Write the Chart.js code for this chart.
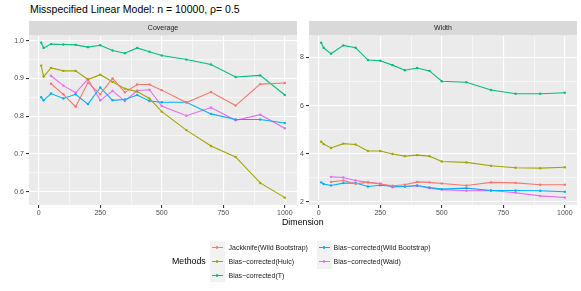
<!DOCTYPE html>
<html>
<head>
<meta charset="utf-8">
<script src="https://cdn.jsdelivr.net/npm/chart.js@4/dist/chart.umd.min.js"></script>
<style>
  body { margin: 0; background: #fff; font-family: "Liberation Sans", Arial, sans-serif; }
  #wrap { position: relative; width: 581px; height: 291px; overflow: hidden; }
  canvas { position: absolute; top: 0; }
  .txt { position: absolute; white-space: nowrap; line-height: 1; }
  .key { position: absolute; width: 15px; height: 14px; background: #F2F2F2; }
  .key .ln { position: absolute; left: 2px; right: 2px; top: 6.5px; height: 1.1px; }
  .key .pt { position: absolute; left: 6.2px; top: 5.7px; width: 2.6px; height: 2.6px; border-radius: 50%; }
</style>
</head>
<body>
<div id="wrap">
  <div class="txt" style="left:30px; top:4px; font-size:10.5px; color:#000;">Misspecified Linear Model: n = 10000, ρ= 0.5</div>
  <canvas id="cov" width="310" height="230" style="left:0px;"></canvas>
  <canvas id="wid" width="291" height="230" style="left:290px;"></canvas>
  <div class="txt" style="left:282px; top:218px; font-size:8.8px; color:#000;">Dimension</div>
  <div class="txt" style="left:172px; top:257px; font-size:8.8px; color:#000;">Methods</div>
  <div id="legend"></div>
</div>
<script>
// x values (dimension)
var dims = [10, 20, 50, 100, 150, 200, 250, 300, 350, 400, 450, 500, 600, 700, 800, 900, 1000];

var methods = [
  "Jackknife(Wild Bootstrap)",
  "Bias\u2212corrected(Hulc)",
  "Bias\u2212corrected(T)",
  "Bias\u2212corrected(Wild Bootstrap)",
  "Bias\u2212corrected(Wald)"
];
var colors = ["#F8766D", "#A3A500", "#00BF7D", "#00B0F6", "#E76BF3"];

// Coverage panel
var covJack = [null, null, 0.886, 0.858, 0.825, 0.889, 0.858, 0.900, 0.863, 0.884, 0.884, 0.869, 0.836, 0.864, 0.828, 0.885, 0.888];
var covHulc = [0.934, 0.905, 0.928, 0.920, 0.920, 0.897, 0.910, 0.891, 0.873, 0.865, 0.847, 0.812, 0.763, 0.721, 0.692, 0.623, 0.584];
var covT    = [0.995, 0.981, 0.991, 0.990, 0.989, 0.983, 0.988, 0.974, 0.967, 0.981, 0.971, 0.961, 0.950, 0.937, 0.904, 0.908, 0.856];
var covWild = [0.850, 0.842, 0.860, 0.847, 0.858, 0.832, 0.876, 0.842, 0.844, 0.856, 0.840, 0.837, 0.837, 0.806, 0.791, 0.791, 0.782];
var covWald = [null, null, 0.907, 0.881, 0.862, 0.898, 0.842, 0.867, 0.840, 0.868, 0.870, 0.827, 0.801, 0.823, 0.789, 0.804, 0.768];

// Width panel
var widJack = [null, null, 2.83, 2.89, 2.75, 2.82, 2.74, 2.67, 2.71, 2.83, 2.81, 2.76, 2.68, 2.81, 2.79, 2.71, 2.71];
var widHulc = [4.50, 4.40, 4.24, 4.42, 4.38, 4.11, 4.11, 3.99, 3.90, 3.94, 3.90, 3.68, 3.64, 3.50, 3.42, 3.40, 3.44];
var widT    = [8.61, 8.40, 8.15, 8.50, 8.40, 7.89, 7.86, 7.68, 7.47, 7.56, 7.44, 7.01, 6.97, 6.65, 6.49, 6.49, 6.53];
var widWild = [2.81, 2.74, 2.68, 2.78, 2.78, 2.64, 2.69, 2.65, 2.64, 2.68, 2.60, 2.53, 2.57, 2.47, 2.47, 2.46, 2.42];
var widWald = [null, null, 3.04, 3.01, 2.89, 2.81, 2.76, 2.61, 2.64, 2.67, 2.57, 2.51, 2.46, 2.47, 2.38, 2.25, 2.18];

// tick labels
var xTicks = [0, 125, 250, 375, 500, 625, 750, 875, 1000];
var xMajor = [0, 250, 500, 750, 1000];
var covTicks = [0.6, 0.65, 0.7, 0.75, 0.8, 0.85, 0.9, 0.95, 1.0];
var covMajor = [0.6, 0.7, 0.8, 0.9, 1.0];
var widTicks = [2, 3, 4, 5, 6, 7, 8];
var widMajor = [2, 4, 6, 8];

var FONT = "'Liberation Sans', Arial, sans-serif";

function isMajor(list, v) {
  return list.some(function (m) { return Math.abs(m - v) < 1e-9; });
}

// grey panel + strip on top
var panelBg = {
  id: "panelBg",
  beforeDraw(chart, args, opts) {
    var a = chart.chartArea, ctx = chart.ctx;
    ctx.save();
    ctx.fillStyle = "#EBEBEB";
    ctx.fillRect(a.left, a.top, a.right - a.left, a.bottom - a.top);
    ctx.fillStyle = "#D9D9D9";
    ctx.fillRect(a.left, 21, a.right - a.left, 14.5);
    ctx.fillStyle = "#1A1A1A";
    ctx.font = "7px " + FONT;
    ctx.textAlign = "center";
    ctx.textBaseline = "middle";
    ctx.fillText(opts.label, (a.left + a.right) / 2, 28.5);
    ctx.restore();
  }
};

function makePanel(id, label, series, yMin, yMax, yTicks, yMajor, fmt, yWidth, rightPad) {
  var datasets = series.map(function (vals, i) {
    return {
      label: methods[i],
      data: dims.map(function (d, j) { return { x: d, y: vals[j] }; }),
      borderColor: colors[i],
      backgroundColor: colors[i],
      borderWidth: 1.1,
      pointRadius: 1.2,
      pointBorderWidth: 0,
      tension: 0,
      spanGaps: false
    };
  });
  var ctx = document.getElementById(id).getContext("2d");
  return new Chart(ctx, {
    type: "line",
    data: { datasets: datasets },
    plugins: [panelBg],
    options: {
      responsive: false,
      animation: false,
      devicePixelRatio: 1,
      layout: { padding: { top: 36, right: rightPad, bottom: 0, left: 0 } },
      plugins: {
        legend: { display: false },
        tooltip: { enabled: false },
        panelBg: { label: label }
      },
      scales: {
        x: {
          type: "linear",
          min: -39.5,
          max: 1049.5,
          afterBuildTicks(scale) {
            scale.ticks = xTicks.map(function (v) { return { value: v }; });
          },
          afterFit(scale) { scale.height = 25; },
          border: { display: false },
          grid: {
            color: "#FFFFFF",
            lineWidth: function (c) { return isMajor(xMajor, c.tick.value) ? 1.1 : 0.55; },
            tickColor: function (c) { return isMajor(xMajor, c.tick.value) ? "#333333" : "rgba(0,0,0,0)"; },
            tickLength: 3,
            drawTicks: true
          },
          ticks: {
            autoSkip: false,
            maxRotation: 0,
            padding: 1,
            color: "#4D4D4D",
            font: { family: FONT, size: 7 },
            callback: function (v) { return isMajor(xMajor, v) ? String(v) : ""; }
          }
        },
        y: {
          type: "linear",
          min: yMin,
          max: yMax,
          afterBuildTicks(scale) {
            scale.ticks = yTicks.map(function (v) { return { value: v }; });
          },
          afterFit(scale) { scale.width = yWidth; },
          border: { display: false },
          grid: {
            color: "#FFFFFF",
            lineWidth: function (c) { return isMajor(yMajor, c.tick.value) ? 1.1 : 0.55; },
            tickColor: function (c) { return isMajor(yMajor, c.tick.value) ? "#333333" : "rgba(0,0,0,0)"; },
            tickLength: 3,
            drawTicks: true
          },
          ticks: {
            autoSkip: false,
            padding: 2,
            color: "#4D4D4D",
            font: { family: FONT, size: 7 },
            callback: function (v) { return isMajor(yMajor, v) ? fmt(v) : ""; }
          }
        }
      }
    }
  });
}

makePanel("cov", "Coverage", [covJack, covHulc, covT, covWild, covWald],
  0.5645, 1.0125, covTicks, covMajor, function (v) { return v.toFixed(1); }, 29, 13);
makePanel("wid", "Width", [widJack, widHulc, widT, widWild, widWald],
  1.87, 8.89, widTicks, widMajor, function (v) { return String(v); }, 19, 4);

// legend: two columns, keys in grey boxes
var legendPos = [
  { kx: 209.5, lx: 228.5, row: 0 },
  { kx: 209.5, lx: 228.5, row: 1 },
  { kx: 209.5, lx: 228.5, row: 2 },
  { kx: 316.5, lx: 333.5, row: 0 },
  { kx: 316.5, lx: 333.5, row: 1 }
];
var html = "";
methods.forEach(function (m, i) {
  var p = legendPos[i];
  var top = 240.7 + p.row * 13.8;
  html += '<div class="key" style="left:' + p.kx + 'px; top:' + top + 'px;">' +
    '<div class="ln" style="background:' + colors[i] + ';"></div>' +
    '<div class="pt" style="background:' + colors[i] + ';"></div></div>';
  html += '<div class="txt" style="left:' + p.lx + 'px; top:' + (top + 3.5) + 'px; font-size:7px; color:#1A1A1A;">' + m + '</div>';
});
document.getElementById("legend").innerHTML = html;
</script>
</body>
</html>
